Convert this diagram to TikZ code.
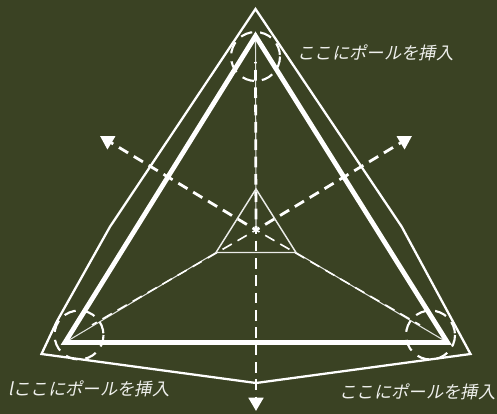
\documentclass[tikz,border=0pt]{standalone}
\usepackage{fontspec}
\setmainfont{Noto Sans CJK JP}[FakeSlant=0.2]
\usetikzlibrary{arrows.meta}
\definecolor{boardgreen}{RGB}{58,66,35}
\definecolor{chalkwhite}{RGB}{255,255,255}
\tikzset{
    rimline/.style={draw=chalkwhite, line width=1.7pt, line join=miter},
    frameline/.style={draw=chalkwhite, line width=3.6pt, line join=miter},
    axisline/.style={draw=chalkwhite, line width=2.1pt, dash pattern=on 8pt off 5pt, dash phase=5pt},
    thinaxis/.style={draw=chalkwhite!85!boardgreen, line width=0.8pt},
    tipaxis/.style={axisline, -{Triangle[width=11pt,length=10pt]}},
    poleloop/.style={draw=chalkwhite, line width=1.6pt, dash pattern=on 9pt off 6pt},
    polelabel/.style={text=chalkwhite!92!boardgreen, font=\fontsize{13}{15}\selectfont, inner sep=0pt}
}
\begin{document}
\begin{tikzpicture}[x=0.75pt, y=-0.75pt]
    % background
    \fill[boardgreen] (0,0) rectangle (497,414);
    \useasboundingbox (0,0) rectangle (497,414);
    % corner points
    \coordinate (rimTop) at (255.5,9);
    \coordinate (rimKinkL) at (110,226.7);
    \coordinate (rimNeckL) at (56.7,321.7);
    \coordinate (rimLeft) at (41.5,354);
    \coordinate (rimKinkR) at (401.7,226.7);
    \coordinate (rimRight) at (470.5,354);
    \coordinate (rimBottom) at (256,383);
    \coordinate (frameTop) at (255.5,36);
    \coordinate (frameLeft) at (65,342.5);
    \coordinate (frameRight) at (447.5,342.5);
    \coordinate (coreTop) at (256,189);
    \coordinate (coreLeft) at (216,252.5);
    \coordinate (coreRight) at (296,252.5);
    \coordinate (coreMid) at (256,230);
    \coordinate (tipLeft) at (100,136);
    \coordinate (tipRight) at (412,136);
    \coordinate (tipBottom) at (256,411);
    % thin lines to the corners
    \draw[thinaxis] (frameTop) -- (coreMid);
    \draw[thinaxis] (frameLeft) -- (coreLeft);
    \draw[thinaxis] (frameRight) -- (coreRight);
    % dashed axes
    \draw[axisline] (coreMid) -- (255.5,62);
    \draw[axisline, line width=1.2pt] (coreMid) -- (92,325);
    \draw[axisline, line width=1.2pt] (coreMid) -- (420,325);
    \draw[tipaxis] (coreMid) -- (tipLeft);
    \draw[tipaxis] (coreMid) -- (tipRight);
    \draw[tipaxis] (coreMid) -- (tipBottom);
    % triangles
    \draw[rimline] (rimTop) -- (rimKinkL) -- (rimNeckL) -- (rimLeft) -- (rimBottom) -- (rimRight) -- (rimKinkR) -- cycle;
    \draw[frameline] (frameTop) -- (frameLeft) -- (frameRight) -- cycle;
    \draw[draw=chalkwhite!90!boardgreen, line width=1.1pt] (coreTop) -- (coreLeft) -- (coreRight) -- cycle;
    % pole circles
    \draw[poleloop] (255.5,56.5) circle (24.5);
    \draw[poleloop] (79,335) circle (24.5);
    \draw[poleloop] (430.5,335) circle (24.5);
    % labels
    \node[polelabel] (labelTop) at (375.5,53) {ここにポールを挿入};
    \node[polelabel] (labelLeft) at (89,389) {lここにポールを挿入};
    \node[polelabel] (labelRight) at (417.5,392) {ここにポールを挿入};
\end{tikzpicture}
\end{document}
